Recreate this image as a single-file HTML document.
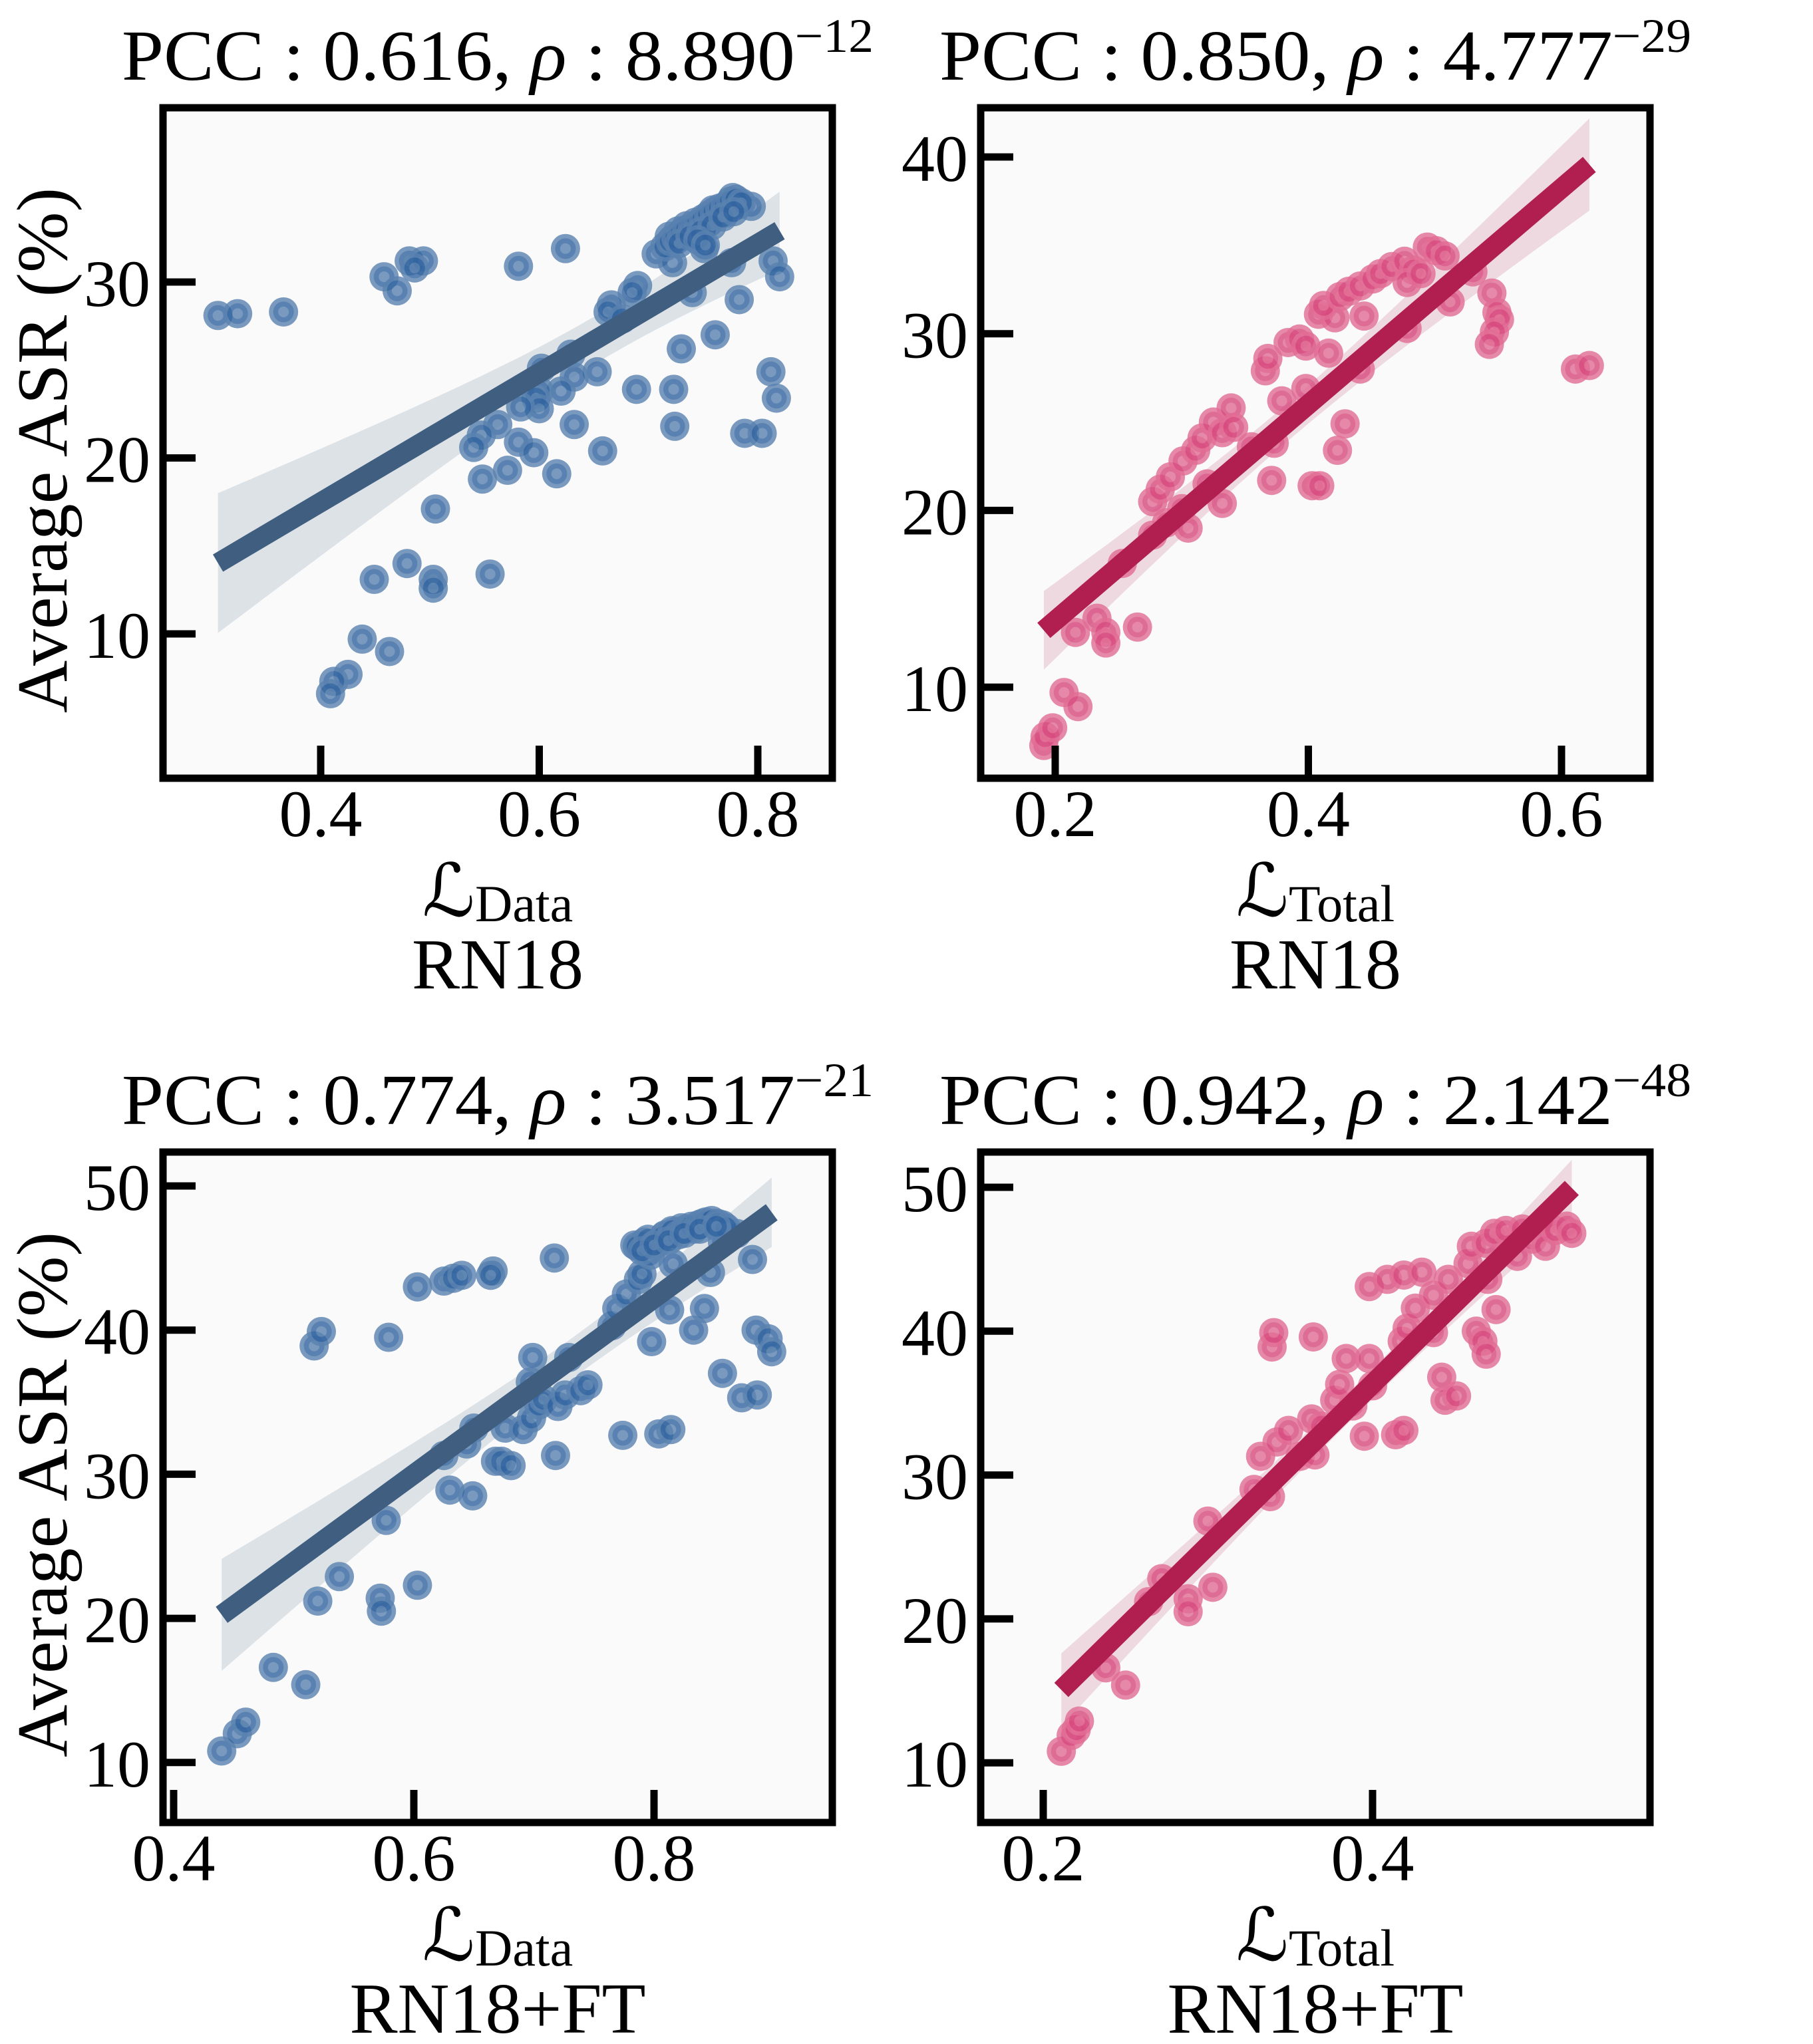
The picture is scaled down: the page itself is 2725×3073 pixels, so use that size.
<!DOCTYPE html>
<html><head><meta charset="utf-8"><style>
html,body{margin:0;padding:0;background:#fff;}
svg{display:block;}
text{font-family:"Liberation Serif","DejaVu Serif",serif;fill:#000;}
</style></head><body>
<svg id="fig" xmlns="http://www.w3.org/2000/svg" width="2725" height="3073" viewBox="0 0 2725 3073"></svg>
<script>
// ---- Data: panel A (RN18, L_Data) ----
const tlX=[0.306,0.324,0.366,0.458,0.470,0.481,0.494,0.486,0.581,0.624,0.707,0.722,0.719,0.727,0.735,0.743,0.751,0.759,0.770,0.777,0.783,0.794,0.751,0.740,0.776,0.783,0.814,0.820,0.761,0.730,0.812,0.817,0.788,0.804,0.724,0.723,0.689,0.690,0.685,0.666,0.663,0.676,0.653,0.658,0.632,0.620,0.629,0.632,0.602,0.600,0.597,0.600,0.583,0.581,0.595,0.616,0.571,0.548,0.562,0.547,0.540,0.505,0.555,0.503,0.503,0.479,0.449,0.438,0.463,0.425,0.412,0.409,
 0.715,0.720,0.725,0.730,0.735,0.740,0.745,0.750,0.755,0.760,0.765,0.770,0.775,0.780,0.785,0.728,0.738,0.748,0.758,0.768,0.778,0.745,0.752];
const tlY=[28.1,28.2,28.3,30.3,29.5,31.2,31.2,30.8,30.9,31.9,31.6,31.1,32.6,32.9,33.2,33.4,33.5,34.1,33.9,34.8,34.4,34.3,31.9,29.4,31.1,29.0,31.2,30.3,27.0,26.2,24.9,23.4,21.4,21.4,21.8,23.9,23.9,29.8,29.4,28.7,28.3,27.9,24.9,20.4,24.6,23.8,25.9,21.9,25.1,23.8,23.4,22.8,22.9,20.9,20.3,19.1,19.3,18.8,21.9,21.3,20.6,17.1,13.4,13.1,12.6,14.0,13.1,9.7,9.0,7.7,7.3,6.6,
 32.0,32.3,32.5,32.8,33.0,33.1,33.3,33.6,33.8,34.0,34.2,34.3,34.6,34.7,34.5,32.2,32.6,32.9,33.2,33.7,34.0,32.4,32.1];
// ---- Data: panel B (RN18, L_Total) ----
const trX=[0.191,0.192,0.198,0.207,0.218,0.216,0.233,0.240,0.240,0.265,0.253,0.277,0.277,0.283,0.291,0.288,0.305,0.300,0.301,0.311,0.316,0.325,0.332,0.339,0.341,0.320,0.332,0.355,0.373,0.371,0.366,0.368,0.379,0.384,0.393,0.398,0.398,0.403,0.409,0.416,0.408,0.421,0.412,0.425,0.432,0.441,0.444,0.451,0.457,0.429,0.423,0.441,0.466,0.476,0.483,0.478,0.478,0.494,0.501,0.508,0.489,0.512,0.530,0.545,0.549,0.551,0.547,0.543,0.611,0.622];
const trY=[6.7,7.2,7.7,9.7,8.9,13.1,13.9,13.1,12.5,13.4,17.0,18.6,20.5,21.2,21.9,19.3,19.0,20.1,22.8,23.4,24.1,25.0,24.4,25.8,24.7,21.5,20.4,23.6,23.8,21.7,27.9,28.6,26.2,29.5,29.7,29.3,26.9,21.4,21.4,28.9,31.1,30.9,31.6,32.1,32.4,32.7,31.0,33.1,33.4,24.9,23.4,28.0,33.8,34.1,33.6,32.9,30.3,34.9,34.7,34.4,33.4,31.8,33.5,32.3,31.2,30.8,30.1,29.4,28.0,28.2];
// ---- Data: panel C (RN18+FT, L_Data) ----
const blX=[0.440,0.453,0.460,0.483,0.510,0.520,0.538,0.572,0.573,0.603,0.577,0.517,0.523,0.579,0.603,0.625,0.633,0.640,0.666,0.664,0.717,0.625,0.630,0.649,0.644,0.650,0.668,0.673,0.681,0.676,0.691,0.698,0.704,0.708,0.697,0.699,0.718,0.720,0.726,0.729,0.739,0.745,0.765,0.769,0.774,0.777,0.787,0.790,0.784,0.792,0.797,0.798,0.804,0.814,0.809,0.816,0.823,0.833,0.840,0.850,0.857,0.816,0.813,0.833,0.842,0.847,0.857,0.869,0.857,0.873,0.886,0.882,0.885,0.895,0.898,
 0.786,0.795,0.802,0.808,0.815,0.820,0.826,0.831,0.837,0.843,0.848,0.853,0.860,0.790,0.800,0.812,0.825,0.838,0.852];
const blY=[10.8,12.0,12.8,16.6,15.4,21.2,22.9,21.4,20.5,22.3,26.8,38.9,39.9,39.5,43.0,43.4,43.6,43.8,44.1,43.8,45.0,31.3,28.9,28.5,32.1,33.2,30.9,30.9,30.6,33.2,33.1,33.9,34.8,35.2,36.4,38.1,31.3,34.7,35.5,38.1,35.8,36.2,40.3,41.5,32.7,42.5,43.5,43.9,45.9,46.1,45.2,39.2,32.8,33.1,46.6,46.8,47.1,47.0,47.4,47.4,47.3,44.6,41.4,40.0,41.5,44.0,46.1,46.7,37.0,35.3,35.5,44.9,40.0,39.4,38.5,
 45.8,46.3,46.0,46.5,46.9,46.6,47.0,47.2,47.3,47.5,47.6,47.4,47.1,45.5,45.9,46.2,46.7,47.0,47.2];
// ---- Data: panel D (RN18+FT, L_Total) ----
const brX=[0.211,0.217,0.220,0.222,0.238,0.250,0.264,0.272,0.288,0.288,0.303,0.300,0.328,0.338,0.332,0.339,0.340,0.342,0.349,0.356,0.365,0.363,0.369,0.364,0.377,0.380,0.384,0.388,0.395,0.398,0.400,0.398,0.409,0.414,0.419,0.418,0.421,0.426,0.419,0.430,0.437,0.437,0.446,0.442,0.444,0.451,0.458,0.460,0.463,0.467,0.469,0.470,0.475,0.469,0.474,0.481,0.488,0.491,0.497,0.502,0.505,0.511,0.518,0.521];
const brY=[10.8,11.9,12.3,12.9,16.6,15.4,21.2,22.8,21.4,20.5,22.2,26.8,29.0,28.5,31.3,38.9,39.9,32.3,33.1,31.3,31.4,33.9,33.4,39.6,35.2,36.3,38.1,34.8,32.7,38.1,36.2,43.1,43.6,32.8,33.1,39.3,40.2,41.6,43.9,44.1,42.5,39.9,43.6,36.8,35.2,35.5,44.7,45.9,40.0,39.3,38.4,43.6,41.5,46.1,46.8,47.0,45.2,47.1,46.4,47.3,45.9,47.0,47.3,46.8];
// ---- Tick labels ----
const tlXTicks=[0.4,0.6,0.8], tlYTicks=[10,20,30];
const trXTicks=[0.2,0.4,0.6], trYTicks=[10,20,30,40];
const blXTicks=[0.4,0.6,0.8], blYTicks=[10,20,30,40,50];
const brXTicks=[0.2,0.4], brYTicks=[10,20,30,40,50];
const titles=[["0.616","8.890","−12"],["0.850","4.777","−29"],["0.774","3.517","−21"],["0.942","2.142","−48"]];

const NS="http://www.w3.org/2000/svg";
const svg=document.getElementById('fig');
function mk(tag,attrs,parent){const e=document.createElementNS(NS,tag);for(const k in attrs)e.setAttribute(k,attrs[k]);(parent||svg).appendChild(e);return e;}

const panels=[
 {id:'rn18-data',L:245,T:162,R:1251,B:1170,x0:0.4,xp0:482,xs:1642.5,y0:30,yp0:424,ys:26.45,xs_:tlX,ys_:tlY,xt:tlXTicks,yt:tlYTicks,pal:'blue',xl:'Data',sub:'RN18',ylab:true,t:titles[0]},
 {id:'rn18-total',L:1474,T:162,R:2480,B:1170,x0:0.2,xp0:1586,xs:1902.5,y0:40,yp0:236,ys:26.57,xs_:trX,ys_:trY,xt:trXTicks,yt:trYTicks,pal:'pink',xl:'Total',sub:'RN18',ylab:false,t:titles[1]},
 {id:'ft-data',L:245,T:1732,R:1251,B:2740,x0:0.4,xp0:261,xs:1805,y0:50,yp0:1783,ys:21.67,xs_:blX,ys_:blY,xt:blXTicks,yt:blYTicks,pal:'blue',xl:'Data',sub:'RN18+FT',ylab:true,t:titles[2]},
 {id:'ft-total',L:1474,T:1732,R:2480,B:2740,x0:0.2,xp0:1568,xs:2475,y0:50,yp0:1785,ys:21.63,xs_:brX,ys_:brY,xt:brXTicks,yt:brYTicks,pal:'pink',xl:'Total',sub:'RN18+FT',ylab:false,t:titles[3]}
];
const pals={blue:{outer:'#5a82b0',ring:'#3265a1',line:'#3f5e80',band:'#3f5e80'},pink:{outer:'#e26d95',ring:'#d84a7e',line:'#b01f50',band:'#b01f50'}};

panels.forEach((p,pi)=>{
  const c=pals[p.pal];
  const sx=v=>p.xp0+(v-p.x0)*p.xs;
  const sy=v=>p.yp0-(v-p.y0)*p.ys;
  const g=mk('g',{});
  
  
  const bg=mk('rect',{x:p.L,y:p.T,width:p.R-p.L,height:p.B-p.T,fill:'#fafafa'},g);
  
  
  const cp=mk('clipPath',{id:'clip'+pi},g);
  mk('rect',{x:p.L,y:p.T,width:p.R-p.L,height:p.B-p.T},cp);
  const inner=mk('g',{'clip-path':'url(#clip'+pi+')'},g);
  const X=p.xs_,Y=p.ys_,n=X.length;
  let mx=0,my=0;for(let i=0;i<n;i++){mx+=X[i];my+=Y[i];}mx/=n;my/=n;
  let sxx=0,sxy=0;for(let i=0;i<n;i++){sxx+=(X[i]-mx)**2;sxy+=(X[i]-mx)*(Y[i]-my);}
  const b=sxy/sxx,a=my-b*mx;
  let sse=0;for(let i=0;i<n;i++){sse+=(Y[i]-a-b*X[i])**2;}
  const s=Math.sqrt(sse/(n-2));
  const xmin=Math.min(...X),xmax=Math.max(...X);
  const up=[],lo=[];
  for(let k=0;k<=50;k++){const xv=xmin+(xmax-xmin)*k/50;const se=s*Math.sqrt(1/n+(xv-mx)**2/sxx);const yv=a+b*xv;
    up.push(sx(xv).toFixed(1)+','+sy(yv+2.3*se).toFixed(1));lo.unshift(sx(xv).toFixed(1)+','+sy(yv-2.3*se).toFixed(1));}
  const band=mk('polygon',{points:up.concat(lo).join(' '),fill:c.band,'fill-opacity':0.15},inner);
  
  
  for(let i=0;i<n;i++){
    const pg=mk('g',{opacity:0.8},inner);
    
    
    mk('circle',{cx:sx(X[i]),cy:sy(Y[i]),r:22,fill:c.outer},pg);
    mk('circle',{cx:sx(X[i]),cy:sy(Y[i]),r:11.8,fill:'none',stroke:c.ring,'stroke-width':7.5},pg);
  }
  const rl=mk('line',{x1:sx(xmin),y1:sy(a+b*xmin),x2:sx(xmax),y2:sy(a+b*xmax),stroke:c.line,'stroke-width':30},inner);
  
  
  p.yt.forEach(v=>{
    const tk=mk('line',{x1:p.L,x2:p.L+49,y1:sy(v),y2:sy(v),stroke:'#000','stroke-width':11},g);
    
    
    const tl=mk('text',{x:p.L-19,y:sy(v)+36,'font-size':100,'text-anchor':'end'},g);
    
    
    tl.textContent=String(v);
  });
  p.xt.forEach(v=>{
    const tk=mk('line',{x1:sx(v),x2:sx(v),y1:p.B,y2:p.B-49,stroke:'#000','stroke-width':11},g);
    
    
    const tl=mk('text',{x:sx(v),y:p.B+87,'font-size':100,'text-anchor':'middle'},g);
    
    
    tl.textContent=v.toFixed(1);
  });
  const fr=mk('rect',{x:p.L,y:p.T,width:p.R-p.L,height:p.B-p.T,fill:'none',stroke:'#000','stroke-width':11},g);
  
  
  const cx=(p.L+p.R)/2;
  const tt=mk('text',{x:cx,y:p.T-42,'font-size':108,'text-anchor':'middle',textLength:1130,lengthAdjust:'spacingAndGlyphs'},g);
  
  
  tt.innerHTML='PCC : '+p.t[0]+', <tspan font-style="italic">ρ</tspan> : '+p.t[1]+'<tspan dy="-42" font-size="72">'+p.t[2]+'</tspan>';
  const xl=mk('text',{x:cx,y:p.B+207,'font-size':100,'text-anchor':'middle'},g);
  
  
  xl.innerHTML='<tspan font-family="DejaVu Serif, DejaVu Sans, serif" font-style="italic" font-size="110">ℒ</tspan><tspan font-size="78" dy="8">'+p.xl+'</tspan>';
  const sl=mk('text',{x:cx,y:p.B+316,'font-size':108,'text-anchor':'middle'},g);
  
  
  sl.textContent=p.sub;
  if(p.ylab){
    const yc=(p.T+p.B)/2+11;
    const yl=mk('text',{x:0,y:0,'font-size':108,'text-anchor':'middle',transform:'translate(100,'+yc+') rotate(-90)',textLength:790,lengthAdjust:'spacingAndGlyphs'},g);
    
    
    yl.textContent='Average ASR (%)';
  }
});
</script>
</body></html>
